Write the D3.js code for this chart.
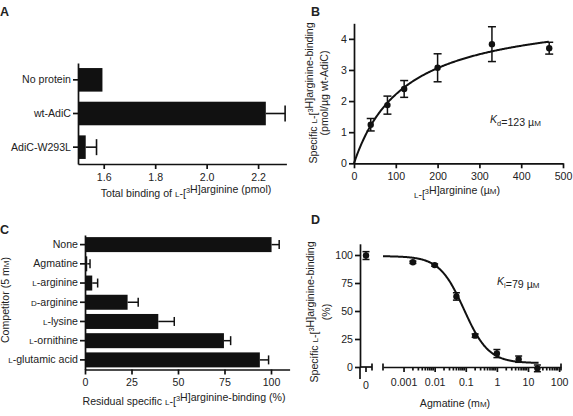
<!DOCTYPE html>
<html lang="en">
<head>
<meta charset="utf-8">
<title>AdiC arginine binding</title>
<script src="https://cdn.jsdelivr.net/npm/d3@7"></script>
<style>
body { margin: 0; background: #fff; }
svg text { font-family: "Liberation Sans", Arial, sans-serif; fill: #222; }
.axis path, .axis line { stroke: #111; stroke-width: 1.7; }
.axis text { font-size: 10.6px; font-family: "Liberation Sans", Arial, sans-serif; fill: #222; }
</style>
</head>
<body>
<script>
// Panel A: total binding
var aCategories = ["No protein", "wt-AdiC", "AdiC-W293L"];
var aValues = [1.595, 2.23, 1.53];
var aErrors = [0.004, 0.075, 0.042];
var aTicks = [1.6, 1.8, 2.0, 2.2];

// Panel B: saturation binding
var bConc = [40, 80, 120, 200, 330, 467];
var bBinding = [1.24, 1.87, 2.39, 3.07, 3.83, 3.70];
var bErrors = [0.2, 0.29, 0.27, 0.45, 0.56, 0.19];
var bXTicks = [0, 100, 200, 300, 400, 500];
var bYTicks = [0, 1, 2, 3, 4];
var bKd = 123, bBmax = 4.94;

// Panel C: competitors
var cCategories = ["None", "Agmatine", "L-arginine", "D-arginine", "L-lysine", "L-ornithine", "L-glutamic acid"];
var cValues = [100.3, 1.2, 3.9, 22.9, 39.4, 74.7, 94];
var cErrors = [4.1, 1.5, 2.9, 5.7, 8.6, 3.6, 4.7];
var cTicks = [0, 25, 50, 75, 100];

// Panel D: agmatine inhibition
var dConc = [0.002, 0.01, 0.05, 0.2, 1, 5, 20];
var dValues = [93.5, 91, 63, 28, 12, 7, -1.2];
var dErrors = [1, 1, 3.3, 1.5, 3.6, 2.8, 3];
var dZeroValue = 99.5, dZeroError = 3.5;
var dXTicks = [0.001, 0.01, 0.1, 1, 10, 100];
var dYTicks = [0, 25, 50, 75, 100];
var dTop = 99, dBottom = 3.5, dIC50 = 0.088, dHill = 1.1;

var w = 573, h = 416;
var fs = 10.6;
var svg = d3.select("body").append("svg")
	.attr("width", w)
	.attr("height", h);

svg.append("rect").attr("width", w).attr("height", h).attr("fill", "#fff");

// writes text pieces: plain strings, {sc:..} small caps, {sup:..}, {sub:..}, {it:..}
function rich(t, parts) {
	parts.forEach(function(p) {
		if (typeof p === "string") {
			t.append("tspan").text(p);
		} else if (p.sc) {
			t.append("tspan").attr("font-size", "0.76em").text(p.sc);
		} else if (p.sup) {
			t.append("tspan").attr("font-size", "0.7em").attr("dy", -3.7).text(p.sup);
			t.append("tspan").attr("dy", 3.7).text("");
		} else if (p.sub) {
			t.append("tspan").attr("font-size", "0.7em").attr("dy", 2.6).text(p.sub);
			t.append("tspan").attr("dy", -2.6).text("");
		} else if (p.it) {
			t.append("tspan").attr("font-style", "italic").text(p.it);
		}
	});
	return t;
}

function label(x, y, parts, anchor, rotate) {
	var t = svg.append("text")
		.attr("font-size", fs + "px")
		.attr("text-anchor", anchor || "middle");
	if (rotate) {
		t.attr("transform", "translate(" + x + "," + y + ") rotate(-90)");
	} else {
		t.attr("x", x).attr("y", y);
	}
	return rich(t, parts);
}

function panelLetter(x, y, s) {
	svg.append("text").attr("x", x).attr("y", y)
		.attr("font-size", "12.5px").attr("font-weight", "bold")
		.attr("fill", "#111").text(s);
}

function catParts(s) {
	var m = s.match(/^([LD])-(.*)$/);
	if (m) return [{sc: m[1]}, "-" + m[2]];
	return [s];
}

// ---------- Panel A ----------
var ax = d3.scaleLinear().domain([1.5, 2.31]).range([78, 286.4]);
var ay = d3.scaleBand().domain(aCategories).range([63, 164]).paddingInner(0.3).paddingOuter(0.15);

var gA = svg.append("g");
gA.selectAll("rect.bar").data(aCategories).enter().append("rect")
	.attr("class", "bar")
	.attr("x", ax(1.5))
	.attr("y", function(d) { return ay(d); })
	.attr("width", function(d, i) { return ax(aValues[i]) - ax(1.5); })
	.attr("height", ay.bandwidth())
	.attr("fill", "#111");

aCategories.forEach(function(d, i) {
	if (aErrors[i] < 0.01) return;
	var cy = ay(d) + ay.bandwidth() / 2;
	var x2 = ax(aValues[i] + aErrors[i]);
	gA.append("line").attr("x1", ax(aValues[i])).attr("x2", x2).attr("y1", cy).attr("y2", cy)
		.attr("stroke", "#111").attr("stroke-width", 1.6);
	gA.append("line").attr("x1", x2).attr("x2", x2).attr("y1", cy - 8).attr("y2", cy + 8)
		.attr("stroke", "#111").attr("stroke-width", 1.6);
});

svg.append("g").attr("class", "axis").attr("transform", "translate(0,164)")
	.call(d3.axisBottom(ax).tickValues(aTicks).tickFormat(d3.format(".1f")).tickSize(5).tickSizeOuter(0).tickPadding(4));
svg.append("g").attr("class", "axis").attr("transform", "translate(78,0)")
	.call(d3.axisLeft(ay).tickSize(5).tickSizeOuter(0).tickPadding(2));

label(186, 197, ["Total binding of ", {sc: "L"}, "-[", {sup: "3"}, "H]arginine (pmol)"]);
panelLetter(0, 16, "A");

// ---------- Panel B ----------
var bx = d3.scaleLinear().domain([0, 500]).range([354, 563]);
var by = d3.scaleLinear().domain([0, 4.5]).range([163.3, 23.3]);

svg.append("g").attr("class", "axis").attr("transform", "translate(0,163.3)")
	.call(d3.axisBottom(bx).tickValues(bXTicks).tickFormat(d3.format("d")).tickSize(5).tickSizeOuter(0).tickPadding(4));
svg.append("g").attr("class", "axis").attr("transform", "translate(354,0)")
	.call(d3.axisLeft(by).tickValues(bYTicks).tickFormat(d3.format("d")).tickSize(5).tickSizeOuter(0).tickPadding(2));

var bFit = d3.range(0, 468, 2).map(function(c) { return [c, bBmax * c / (bKd + c)]; });
svg.append("path").datum(bFit)
	.attr("fill", "none").attr("stroke", "#111").attr("stroke-width", 2)
	.attr("d", d3.line().x(function(d) { return bx(d[0]); }).y(function(d) { return by(d[1]); }));

var gB = svg.append("g").attr("stroke", "#111").attr("stroke-width", 1.5);
bConc.forEach(function(c, i) {
	var x = bx(c), y1 = by(bBinding[i] - bErrors[i]), y2 = by(bBinding[i] + bErrors[i]);
	gB.append("line").attr("x1", x).attr("x2", x).attr("y1", y1).attr("y2", y2);
	gB.append("line").attr("x1", x - 4).attr("x2", x + 4).attr("y1", y1).attr("y2", y1);
	gB.append("line").attr("x1", x - 4).attr("x2", x + 4).attr("y1", y2).attr("y2", y2);
	svg.append("circle").attr("cx", x).attr("cy", by(bBinding[i])).attr("r", 3.2).attr("fill", "#111");
});

label(490, 123, [{it: "K"}, {sub: "d"}, "=123 µ", {sc: "M"}], "start");
label(457, 198, [{sc: "L"}, "-[", {sup: "3"}, "H]arginine (µ", {sc: "M"}, ")"]);
label(317, 93, ["Specific ", {sc: "L"}, "-[", {sup: "3"}, "H]arginine-binding"], "middle", true);
label(328, 93, ["(pmol/µg wt-AdiC)"], "middle", true);
panelLetter(311, 16, "B");

// ---------- Panel C ----------
var cx = d3.scaleLinear().domain([0, 110]).range([85, 289.6]);
var cy = d3.scaleBand().domain(cCategories).range([235, 369.5]).paddingInner(0.22).paddingOuter(0.11);

var gC = svg.append("g");
gC.selectAll("rect.bar").data(cCategories).enter().append("rect")
	.attr("class", "bar")
	.attr("x", cx(0))
	.attr("y", function(d) { return cy(d); })
	.attr("width", function(d, i) { return cx(cValues[i]) - cx(0); })
	.attr("height", cy.bandwidth())
	.attr("fill", "#111");

cCategories.forEach(function(d, i) {
	var yc = cy(d) + cy.bandwidth() / 2;
	var x2 = cx(cValues[i] + cErrors[i]);
	gC.append("line").attr("x1", cx(cValues[i])).attr("x2", x2).attr("y1", yc).attr("y2", yc)
		.attr("stroke", "#111").attr("stroke-width", 1.5);
	gC.append("line").attr("x1", x2).attr("x2", x2).attr("y1", yc - 4.5).attr("y2", yc + 4.5)
		.attr("stroke", "#111").attr("stroke-width", 1.5);
});

svg.append("g").attr("class", "axis").attr("transform", "translate(0,369.5)")
	.call(d3.axisBottom(cx).tickValues(cTicks).tickFormat(d3.format("d")).tickSize(5).tickSizeOuter(0).tickPadding(4));
var cAxis = svg.append("g").attr("class", "axis").attr("transform", "translate(85,0)")
	.call(d3.axisLeft(cy).tickSize(5).tickSizeOuter(0).tickPadding(2));
cAxis.selectAll(".tick text").text("").each(function(d) { rich(d3.select(this), catParts(d)); });

label(184, 405, ["Residual specific ", {sc: "L"}, "-[", {sup: "3"}, "H]arginine-binding (%)"]);
label(9, 300, ["Competitor (5 m", {sc: "M"}, ")"], "middle", true);
panelLetter(0, 234, "C");

// ---------- Panel D ----------
var dx = d3.scaleLog().domain([Math.pow(10, -3.66), Math.pow(10, 2.06)]).range([383, 561]);
var dy = d3.scaleLinear().domain([0, 110]).range([367, 243.8]);
var dZeroX = 366;

// y axis
svg.append("g").attr("class", "axis").attr("transform", "translate(360,0)")
	.call(d3.axisLeft(dy).tickValues(dYTicks).tickFormat(d3.format("d")).tickSize(5).tickSizeOuter(0).tickPadding(2));
svg.append("line").attr("x1", 360).attr("x2", 360).attr("y1", 367).attr("y2", 379)
	.attr("stroke", "#111").attr("stroke-width", 1.7);

// zero segment of the x axis
var gZ = svg.append("g").attr("stroke", "#111").attr("stroke-width", 1.7);
gZ.append("line").attr("x1", 360).attr("x2", 372).attr("y1", 367).attr("y2", 367);
gZ.append("line").attr("x1", 372).attr("x2", 372).attr("y1", 363.5).attr("y2", 370.5);
gZ.append("line").attr("x1", dZeroX).attr("x2", dZeroX).attr("y1", 367).attr("y2", 372);
svg.append("text").attr("x", dZeroX).attr("y", 389).attr("text-anchor", "middle")
	.attr("font-size", fs + "px").text("0");

// log segment
var dMinor = dx.ticks().filter(function(v) {
	return v >= 0.001 && dXTicks.indexOf(v) < 0;
});
var logAxis = svg.append("g").attr("class", "axis").attr("transform", "translate(0,367)");
logAxis.call(d3.axisBottom(dx).tickValues(dXTicks).tickFormat(function(d) { return String(d); })
	.tickSize(5).tickSizeOuter(0).tickPadding(6));
logAxis.selectAll(".minor").data(dMinor).enter().append("line")
	.attr("class", "minor")
	.attr("x1", function(d) { return dx(d); }).attr("x2", function(d) { return dx(d); })
	.attr("y1", 0).attr("y2", 3.5).attr("stroke", "#111").attr("stroke-width", 1.5);
[383, 561].forEach(function(x) {
	logAxis.append("line").attr("x1", x).attr("x2", x).attr("y1", -3.5).attr("y2", 3.5)
		.attr("stroke", "#111").attr("stroke-width", 1.7);
});

// fitted curve
var dFit = d3.range(-3.66, 1.35, 0.02).map(function(e) {
	var c = Math.pow(10, e);
	return [c, dBottom + (dTop - dBottom) / (1 + Math.pow(c / dIC50, dHill))];
});
svg.append("path").datum(dFit)
	.attr("fill", "none").attr("stroke", "#111").attr("stroke-width", 2)
	.attr("d", d3.line().x(function(d) { return dx(d[0]); }).y(function(d) { return dy(d[1]); }));

var gD = svg.append("g").attr("stroke", "#111").attr("stroke-width", 1.5);
function dPoint(x, v, e) {
	var y1 = dy(v - e), y2 = dy(v + e);
	gD.append("line").attr("x1", x).attr("x2", x).attr("y1", y1).attr("y2", y2);
	gD.append("line").attr("x1", x - 3.5).attr("x2", x + 3.5).attr("y1", y1).attr("y2", y1);
	gD.append("line").attr("x1", x - 3.5).attr("x2", x + 3.5).attr("y1", y2).attr("y2", y2);
	svg.append("circle").attr("cx", x).attr("cy", dy(v)).attr("r", 3.2).attr("fill", "#111");
}
dPoint(dZeroX, dZeroValue, dZeroError);
dConc.forEach(function(c, i) { dPoint(dx(c), dValues[i], dErrors[i]); });

label(497, 285, [{it: "K"}, {sub: "i"}, "=79 µ", {sc: "M"}], "start");
label(455, 407, ["Agmatine (m", {sc: "M"}, ")"]);
label(318, 312, ["Specific ", {sc: "L"}, "-[", {sup: "3"}, "H]arginine-binding"], "middle", true);
label(330, 312, ["(%)"], "middle", true);
panelLetter(311, 224, "D");
</script>
</body>
</html>
